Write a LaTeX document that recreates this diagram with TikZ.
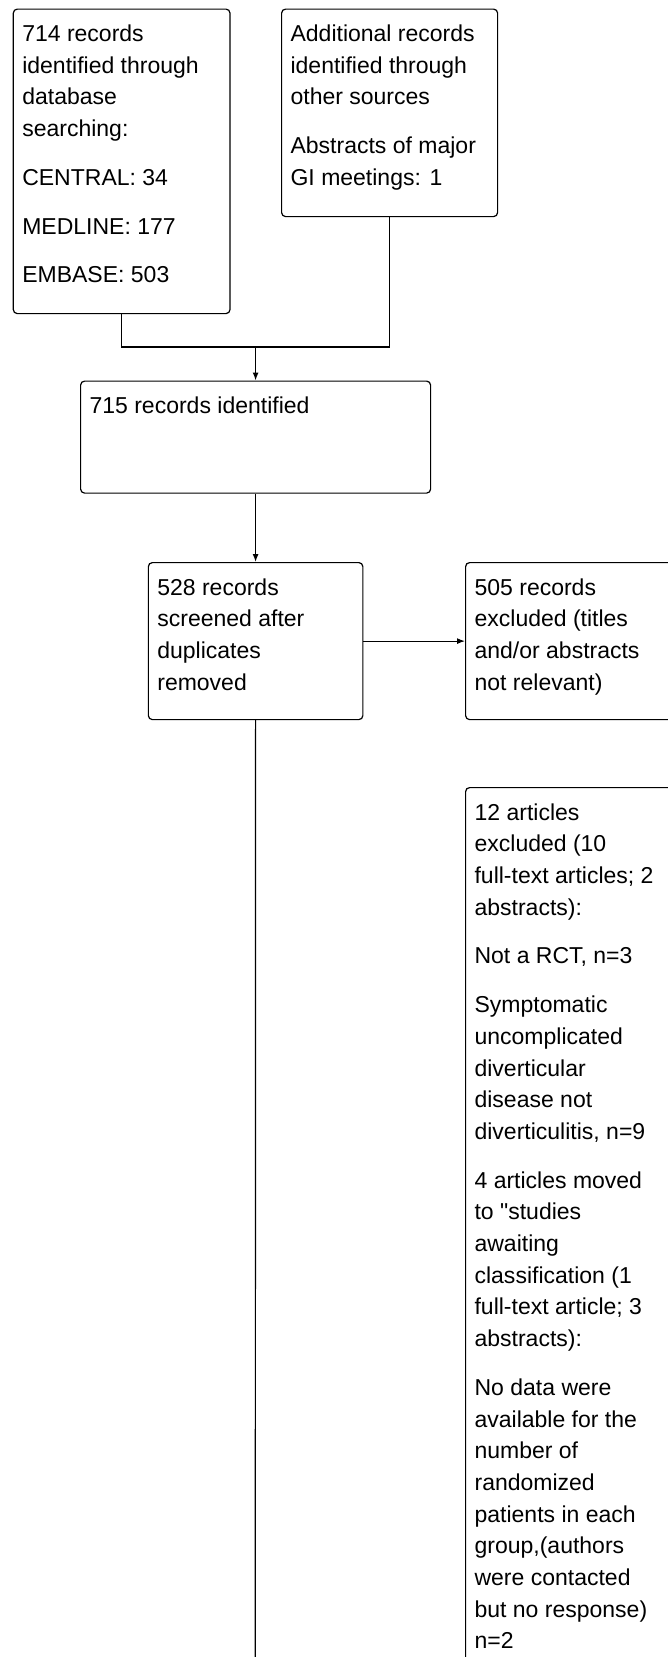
\documentclass[tikz,border=0pt]{standalone}
\usepackage{fontspec}
\setmainfont{Liberation Sans}
\usetikzlibrary{arrows.meta}

% top-aligned text block of a fixed size
\newcommand{\boxtxt}[3]{\parbox[t][#2][t]{#1}{\raggedright\strut #3}}

\begin{document}
\begin{tikzpicture}[x=1pt, y=-1pt]
\tikzstyle{rec}=[draw, rounded corners=4pt, line width=1.2pt, anchor=north west,
  inner xsep=9pt, inner ysep=10.3pt, font=\fontsize{23}{31.7}\selectfont]
\tikzstyle{link}=[line width=1.2pt]
\tikzstyle{arr}=[link, -{Latex[length=8pt,width=6pt]}]
\useasboundingbox (0,0) rectangle (668,1657);
\clip (0,0) rectangle (668,1657);

    \node [rec] (db) at (12.7,8.5) {\boxtxt{198.7pt}{283.9pt}{714 records\\identified through\\database\\searching:\\[17pt]CENTRAL: 34\\[17pt]MEDLINE: 177\\[17pt]EMBASE: 503}};
    \node [rec] (other) at (281,8.5) {\boxtxt{198pt}{186.9pt}{Additional records\\identified through\\other sources\\[17pt]Abstracts of major\\GI meetings: 1}};
    \node [rec] (ident) at (80,380.5) {\boxtxt{332pt}{91.4pt}{715 records identified}};
    \node [rec] (screen) at (147.75,562) {\boxtxt{196.5pt}{136.4pt}{528 records\\screened after\\duplicates\\removed}};
    \node [rec] (excl) at (465,562) {\boxtxt{198pt}{136.4pt}{505 records\\excluded (titles\\and/or abstracts\\not relevant)}};
    \node [rec] (full) at (465,787) {\boxtxt{198pt}{892.4pt}{12 articles\\excluded (10\\full-text articles; 2\\abstracts):\\[17pt]Not a RCT, n=3\\[17pt]Symptomatic\\uncomplicated\\diverticular\\disease not\\diverticulitis, n=9\\[17pt]4 articles moved\\to \textquotedbl studies\\awaiting\\classification (1\\full-text article; 3\\abstracts):\\[17pt]No data were\\available for the\\number of\\randomized\\patients in each\\group,(authors\\were contacted\\but no response)\\n=2}};

    % connectors
    \coordinate (jy) at (0,347);
    \coordinate (j) at (ident.north |- jy);
    \coordinate (dn) at (255.25,1700);
    \draw [link] (db.south) |- (j) -| (other.south);
    \draw [arr] (j) -- (ident.north);
    \draw [arr] (ident.south) -- (screen.north);
    \draw [arr] (screen.east) -- (excl.west);
    \draw [link] (screen.south) -- (dn);
\end{tikzpicture}
\end{document}
